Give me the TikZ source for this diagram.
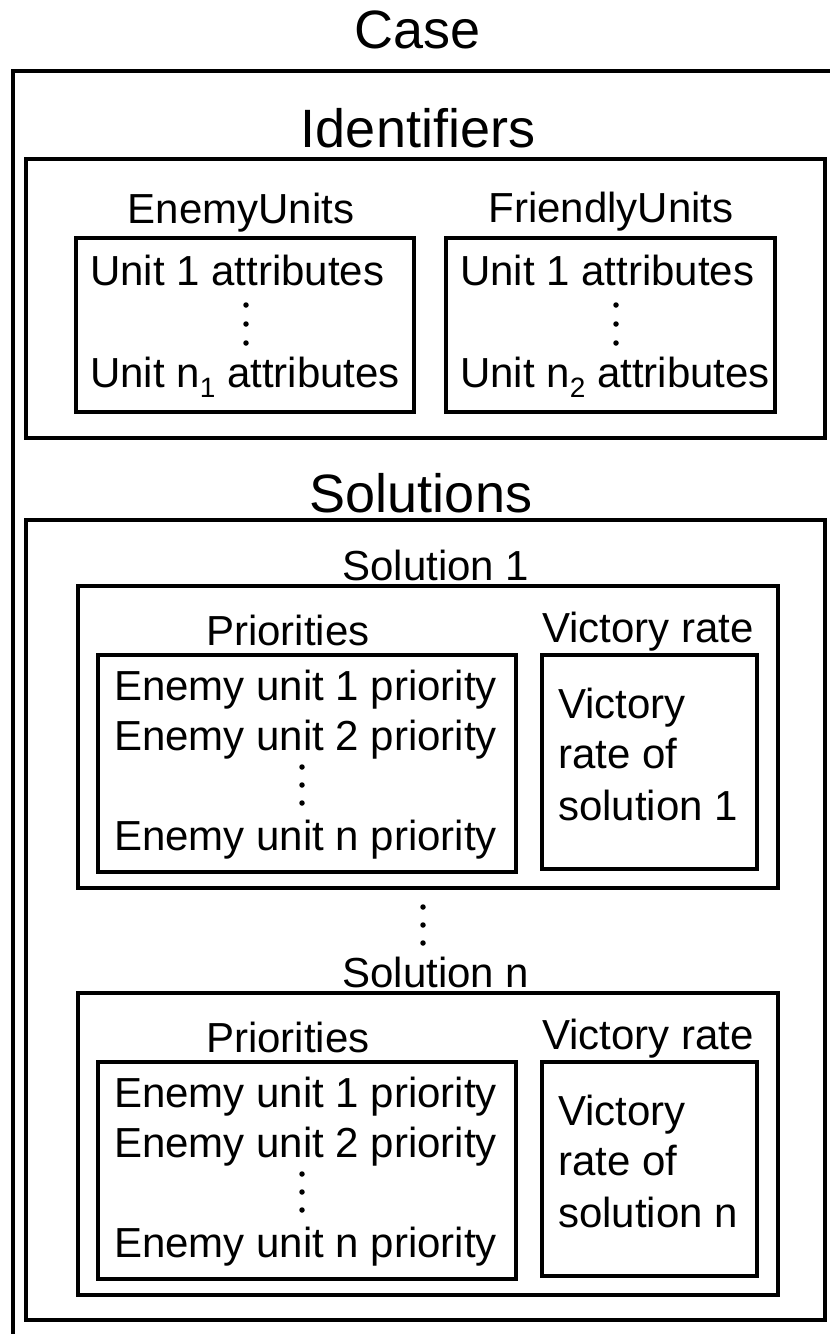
\documentclass[tikz,border=0pt]{standalone}
\usepackage{fontspec}
\setmainfont{Liberation Sans}
\usetikzlibrary{fit}
\newcommand\sub[1]{\raisebox{-10pt}{\fontsize{28}{28}\selectfont #1}}
\begin{document}
\begin{tikzpicture}[x=1pt,y=-1pt,
  frame/.style={draw=black, line width=4pt, inner sep=0pt, rectangle},
  title/.style={font=\fontsize{54}{60}\selectfont, inner sep=0pt, anchor=base},
  label/.style={font=\fontsize{42}{48}\selectfont, inner sep=0pt, anchor=base},
  entry/.style={label, anchor=base west},
  dot/.style={circle, fill=black, inner sep=0pt, minimum size=5.5pt},
]
\useasboundingbox (0,0) rectangle (830,1334);

% outermost case frame, running off the right and bottom edges
\begin{scope}
  \clip (0,0) rectangle (830,1334);
  \node[frame, line width=3.5pt, fit={(13,71) (870,1370)}] (case) {};
\end{scope}
\node[title] (casetitle) at (418,48) {Case};

% identifiers block
\node[title] (idtitle) at (418,147) {Identifiers};
\node[frame, fit={(26,159) (825,438)}] (ident) {};

\node[label] (enemytitle) at (241,223) {EnemyUnits};
\node[frame, fit={(76,238) (414,412)}] (enemy) {};
\node[entry] (enemyfirst) at (90,285) {Unit 1 attributes};
\node[dot] (ed1) at (246,305) {};
\node[dot] (ed2) at (246,324) {};
\node[dot] (ed3) at (246,343) {};
\node[entry] (enemylast) at (90,387) {Unit n\sub{1} attributes};

\node[label] (friendtitle) at (611,222) {FriendlyUnits};
\node[frame, fit={(446,238) (775,412)}] (friend) {};
\node[entry] (friendfirst) at (460,285) {Unit 1 attributes};
\node[dot] (fd1) at (616,305) {};
\node[dot] (fd2) at (616,324) {};
\node[dot] (fd3) at (616,343) {};
\node[entry] (friendlast) at (460,387) {Unit n\sub{2} attributes};

% solutions block
\node[title] (soltitle) at (421,512) {Solutions};
\node[frame, fit={(26,520) (825,1320)}] (solutions) {};

% one solution: #1 name prefix, #2 vertical shift, #3 solution index
\newcommand\solutionpart[3]{%
\begin{scope}[yshift=#2]
  \node[label] (#1title) at (436,580) {Solution #3};
  \node[frame, fit={(78,586) (778,888)}] (#1box) {};
  \node[label] (#1priotitle) at (288,645) {Priorities};
  \node[frame, fit={(98,655) (516,872)}] (#1prio) {};
  \node[label] (#1victitle) at (648,642) {Victory rate};
  \node[frame, fit={(542,655) (757,869)}] (#1vic) {};
  \node[entry] (#1p1) at (114,700) {Enemy unit 1 priority};
  \node[entry] (#1p2) at (114,750) {Enemy unit 2 priority};
  \node[dot] (#1d1) at (302,767) {};
  \node[dot] (#1d2) at (302,785) {};
  \node[dot] (#1d3) at (302,803) {};
  \node[entry] (#1pn) at (114,850) {Enemy unit n priority};
  \node[entry] (#1v1) at (558,718) {Victory};
  \node[entry] (#1v2) at (558,768) {rate of};
  \node[entry] (#1v3) at (558,820) {solution #3};
\end{scope}}

\solutionpart{sa}{0pt}{1}
\node[dot] (sd1) at (423,907) {};
\node[dot] (sd2) at (423,925) {};
\node[dot] (sd3) at (423,943) {};
\solutionpart{sb}{-407pt}{n}
\end{tikzpicture}
\end{document}
